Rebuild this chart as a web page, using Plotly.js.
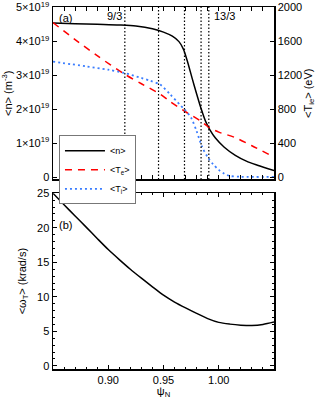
<!DOCTYPE html>
<html>
<head>
<meta charset="utf-8">
<script src="https://cdn.plot.ly/plotly-3.0.1.min.js"></script>
<style>html,body{margin:0;padding:0;background:#fff;}#chart{width:316px;height:399px;}</style>
</head>
<body>
<div id="chart"></div>
<script>
// Density <n> (units of 1e19 m^-3)
const psiN = [0.85,0.87,0.89,0.91,0.925,0.94,0.95,0.958,0.964,0.968,0.972,0.976,0.980,0.984,0.988,0.992,0.997,1.005,1.015,1.025,1.035,1.05];
const nVals = [4.54,4.52,4.50,4.48,4.45,4.37,4.27,4.15,3.99,3.77,3.37,2.90,2.45,2.02,1.65,1.39,1.15,0.88,0.64,0.47,0.35,0.19];
// Electron temperature (eV)
const psiTe = [0.85,0.87,0.89,0.915,0.93,0.947,0.956,0.97,0.983,0.992,1.0,1.014,1.03,1.05];
const teVals = [1820,1620,1430,1211,1100,977,890,770,665,580,530,470,370,237];
// Ion temperature (eV)
const psiTi = [0.85,0.88,0.90,0.915,0.93,0.938,0.947,0.956,0.965,0.970,0.975,0.980,0.985,0.990,0.995,1.0,1.005,1.01,1.02,1.05];
const tiVals = [1360,1305,1265,1225,1168,1135,1090,975,850,783,700,540,355,235,150,85,40,14,4,2];
// Rotation <omega_T> (krad/s)
const psiW = [0.85,0.86,0.87,0.88,0.89,0.90,0.91,0.92,0.93,0.94,0.95,0.96,0.97,0.98,0.99,1.0,1.01,1.02,1.03,1.04,1.05];
const wVals = [25.0,23.35,21.7,20.1,18.45,16.85,15.4,14.0,12.7,11.45,10.25,9.25,8.4,7.6,6.85,6.3,6.05,5.9,5.85,6.0,6.35];
// Rational surfaces
const surfPsi = [0.915,0.9455,0.969,0.984,0.991];
const surfLabels = ["9/3","","","","13/3"];
// Tick labels
const nTickVals = [0,1,2,3,4,5];
const nTickText = ["0","1×10<sup>19</sup>","2×10<sup>19</sup>","3×10<sup>19</sup>","4×10<sup>19</sup>","5×10<sup>19</sup>"];

const F = "Liberation Sans, Arial, sans-serif";
const nScaled = nVals.map(v => v * 1e19);

const traces = [
  {x: psiN, y: nScaled, xaxis:'x', yaxis:'y', mode:'lines', name:'<n>', line:{color:'#000', width:1.5, shape:'spline', smoothing:0.8}},
  {x: psiTe, y: teVals, xaxis:'x', yaxis:'y2', mode:'lines', name:'<T<sub>e</sub>>', line:{color:'#ff0000', width:1.5, dash:'7px,6px', shape:'spline', smoothing:0.8}},
  {x: psiTi, y: tiVals, xaxis:'x', yaxis:'y2', mode:'lines', name:'<T<sub>i</sub>>', line:{color:'#3a7dff', width:1.8, dash:'2px,3px', shape:'spline', smoothing:0.8}},
  {x: psiW, y: wVals, xaxis:'x2', yaxis:'y3', mode:'lines', showlegend:false, line:{color:'#000', width:1.5, shape:'spline', smoothing:0.8}}
];

const shapes = surfPsi.map(p => ({type:'line', xref:'x', yref:'y domain', x0:p, x1:p, y0:0, y1:1, line:{color:'#000', width:1.2, dash:'1.5px,2px'}}));

const annotations = [
  {text:'(a)', xref:'x domain', yref:'y domain', x:0.02, y:0.985, xanchor:'left', yanchor:'top', showarrow:false, font:{family:F, size:11, color:'#000'}},
  {text:'(b)', xref:'x2 domain', yref:'y3 domain', x:0.02, y:0.82, xanchor:'left', yanchor:'middle', showarrow:false, font:{family:F, size:11, color:'#000'}}
];
surfPsi.forEach((p,i) => {
  if (surfLabels[i] === "9/3") annotations.push({text:surfLabels[i], xref:'x', yref:'y domain', x:p-0.001, y:0.95, xanchor:'right', yanchor:'middle', showarrow:false, font:{family:F, size:11, color:'#000'}});
  else if (surfLabels[i]) annotations.push({text:surfLabels[i], xref:'x', yref:'y domain', x:p+0.003, y:0.95, xanchor:'left', yanchor:'middle', showarrow:false, font:{family:F, size:11, color:'#000'}});
});

const axCommon = {ticks:'inside', ticklen:4, tickcolor:'#000', showline:true, linecolor:'#000', linewidth:1.5, showgrid:false, zeroline:false, tickfont:{family:F, size:11, color:'#000'}};

const layout = {
  width:316, height:399,
  margin:{l:53, r:42, t:7, b:30},
  paper_bgcolor:'#fff', plot_bgcolor:'#fff',
  font:{family:F, size:11, color:'#000'},
  showlegend:true,
  legend:{x:0.027, y:0.6456, xanchor:'left', yanchor:'top', bgcolor:'#fff', bordercolor:'#777', borderwidth:1, font:{family:F, size:9, color:'#000'}, itemwidth:40, tracegroupgap:0},
  xaxis: Object.assign({}, axCommon, {domain:[0,1], range:[0.85,1.05], anchor:'y', dtick:0.05, tick0:0.85, showticklabels:false, mirror:'allticks', minor:{dtick:0.01, ticklen:2, ticks:'inside', tickcolor:'#000'}}),
  yaxis: Object.assign({}, axCommon, {domain:[0.5235,1], range:[-0.07e19,5.01e19], anchor:'x', tickmode:'array', tickvals:nTickVals.map(v=>v*1e19), ticktext:nTickText, ticklabeloverflow:'allow', title:{text:'<n> (m<sup>-3</sup>)', font:{family:F, size:11, color:'#000'}, standoff:6}}),
  yaxis2: Object.assign({}, axCommon, {domain:[0.5235,1], range:[-28,2004], anchor:'x', overlaying:'y', side:'right', dtick:400, ticklabeloverflow:'allow', title:{text:'<T<sub>ie</sub>> (eV)', font:{family:F, size:11, color:'#000'}, standoff:4}}),
  xaxis2: Object.assign({}, axCommon, {domain:[0,1], range:[0.85,1.05], anchor:'y3', tickvals:[0.90,0.95,1.00], ticktext:['0.90','0.95','1.00'], mirror:'allticks', minor:{dtick:0.01, tick0:0.85, ticklen:2, ticks:'inside', tickcolor:'#000'}, title:{text:'ψ<sub>N</sub>', font:{family:F, size:11, color:'#000'}, standoff:2}}),
  yaxis3: Object.assign({}, axCommon, {domain:[0,0.4854], range:[-0.45,25], anchor:'x2', dtick:5, mirror:'allticks', minor:{dtick:1, ticklen:2, ticks:'inside', tickcolor:'#000'}, title:{text:'<ω<sub>T</sub>> (krad/s)', font:{family:F, size:11, color:'#000'}, standoff:8}}),
  shapes: shapes,
  annotations: annotations
};

Plotly.newPlot('chart', traces, layout, {displayModeBar:false, staticPlot:true});
</script>
</body>
</html>
